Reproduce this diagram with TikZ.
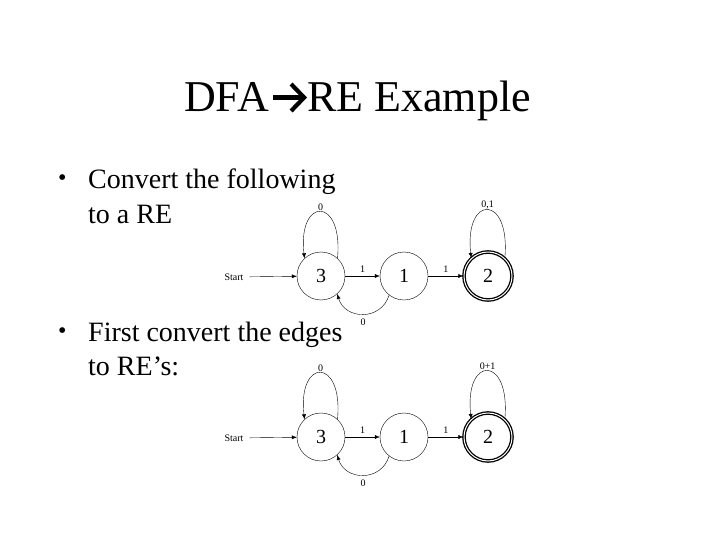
\documentclass[tikz,border=0pt]{standalone}
\usepackage{fontspec}
\setmainfont{Liberation Serif}
\usetikzlibrary{arrows.meta, positioning}

\begin{document}
\begin{tikzpicture}[x=1pt, y=-1pt,
  state/.style={draw, circle, thin, minimum size=48pt, inner sep=0pt, font=\fontsize{20}{24}\selectfont},
  accept/.style={state, double, line width=1.3pt, double distance=1pt},
  lbl/.style={font=\fontsize{10}{12}\selectfont, inner sep=1pt},
  ttl/.style={font=\fontsize{44}{50}\selectfont, inner sep=0pt},
  txt/.style={anchor=base west, font=\fontsize{28}{34}\selectfont, inner sep=0pt},
  dot/.style={anchor=base west, font=\fontsize{24}{28}\selectfont, inner sep=0pt},
  tr/.style={-{Latex[length=5pt, width=4pt]}, thin}]
  \useasboundingbox (0,0) rectangle (720,540);
  % title
  \node[ttl, anchor=base east] (tA) at (269,112) {DFA};
  \node[ttl, anchor=base west] (tB) at (307,112) {RE Example};
  \draw[line width=4.2pt, -{Straight Barb[length=13pt, width=27pt, line width=4.2pt]}]
    (tA.east) ++(4,0) coordinate (ta) (ta) -- (ta -| tB.west);

  % bullets
  \node[dot] (d1) at (58,186) {•};
  \node[txt] (t1a) at (88,189) {Convert the following};
  \node[txt] (t1b) at (88,223) {to a RE};
  \node[dot] (d2) at (58,338) {•};
  \node[txt] (t2a) at (88,341) {First convert the edges};
  \node[txt] (t2b) at (88,375) {to RE’s:};

  % first automaton
  \node[lbl] (sa) at (234,277) {Start};
  \node[state] (a3) at (321,276) {3};
  \node[state] (a1) at (404,276) {1};
  \node[accept] (a2) at (488,276) {2};
  \draw[tr, shorten <=5pt] (sa) -- (a3);
  \draw[tr] (a3) -- node[lbl, above=2pt] {1} (a1);
  \draw[tr] (a1) -- node[lbl, above=2pt] {1} (a2);
  \draw[tr] (a3.47) .. controls +(6,-62) and +(-7,-62) .. (a3.133) node[lbl, pos=0.5, above] {0};
  \draw[tr] (a2.47) .. controls +(6,-64) and +(-7,-64) .. (a2.133) node[lbl, pos=0.5, above] {0,1};
  \draw[tr] (a1.232) .. controls +(-8,26) and +(8,26) .. (a3.312) node[lbl, pos=0.5, below=4pt] {0};

  % second automaton
  \node[lbl] (sb) at (234,438) {Start};
  \node[state] (b3) at (321,437) {3};
  \node[state] (b1) at (404,437) {1};
  \node[accept] (b2) at (488,437) {2};
  \draw[tr, shorten <=5pt] (sb) -- (b3);
  \draw[tr] (b3) -- node[lbl, above=2pt] {1} (b1);
  \draw[tr] (b1) -- node[lbl, above=2pt] {1} (b2);
  \draw[tr] (b3.47) .. controls +(6,-62) and +(-7,-62) .. (b3.133) node[lbl, pos=0.5, above] {0};
  \draw[tr] (b2.47) .. controls +(6,-64) and +(-7,-64) .. (b2.133) node[lbl, pos=0.5, above] {0+1};
  \draw[tr] (b1.232) .. controls +(-8,26) and +(8,26) .. (b3.312) node[lbl, pos=0.5, below=4pt] {0};
\end{tikzpicture}
\end{document}
